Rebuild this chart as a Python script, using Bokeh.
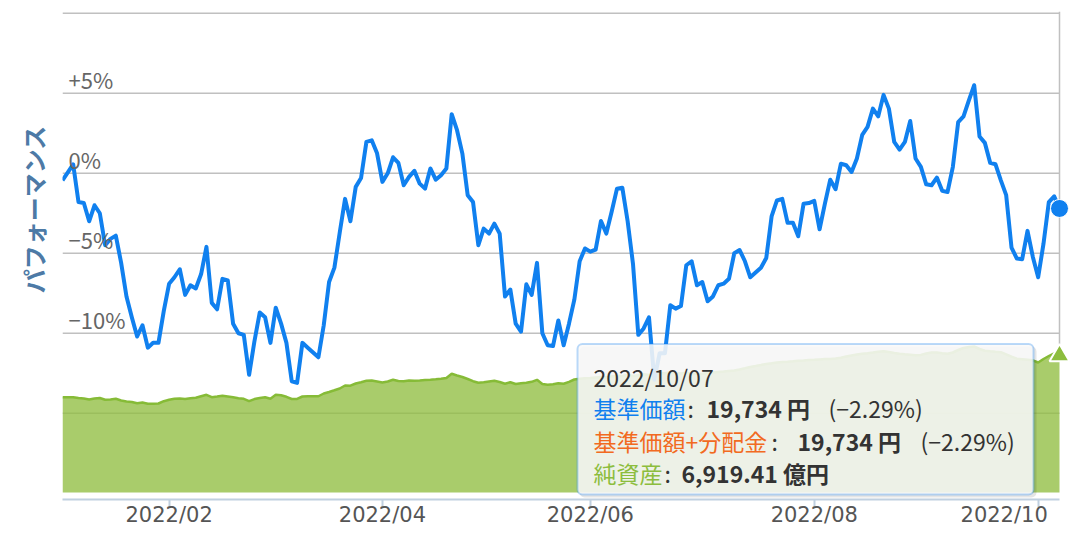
import math
import pandas as pd
from bokeh.plotting import figure
from bokeh.layouts import row
from bokeh.models import Range1d, FixedTicker, Label, BoxAnnotation
from bokeh.embed import file_html
from bokeh.resources import INLINE
from bokeh.core.properties import value

# ---------------- data ----------------
jp_holidays = ["2021-12-31", "2022-01-03", "2022-01-10", "2022-02-11", "2022-02-23",
               "2022-03-21", "2022-04-29", "2022-05-03", "2022-05-04", "2022-05-05",
               "2022-07-18", "2022-08-11", "2022-09-19", "2022-09-23"]
trade_dates = pd.bdate_range("2021-12-30", "2022-10-07", freq="C", holidays=jp_holidays)

# performance (%), one value per trading day
performance = [
    -0.44, 0.05, 0.56, -1.8, -1.86, -3.0, -2.0, -2.5, -4.5, -4.1,
    -3.9, -5.6, -7.7, -9.0, -10.2, -9.5, -10.9, -10.6, -10.6, -8.6,
    -6.9, -6.5, -6.0, -7.6, -7.0, -7.2, -6.3, -4.6, -8.1, -8.5,
    -6.6, -6.7, -9.4, -10.0, -10.1, -12.6, -10.5, -8.7, -9.0, -10.6,
    -8.4, -9.4, -10.6, -13.0, -13.1, -10.6, -10.9, -11.2, -11.5, -9.5,
    -6.8, -5.9, -3.7, -1.6, -3.0, -0.85, -0.3, 1.96, 2.06, 1.25,
    -0.54, 0.0, 1.0, 0.65, -0.75, -0.23, 0.15, -0.65, -0.96, 0.3,
    -0.4, -0.12, 0.3, 3.69, 2.69, 1.23, -1.37, -1.8, -4.5, -3.46,
    -3.77, -3.15, -3.77, -7.7, -7.27, -9.4, -9.9, -6.94, -7.6, -5.6,
    -10.0, -10.75, -10.8, -9.2, -10.75, -9.4, -7.9, -5.5, -4.7, -4.9,
    -4.77, -2.98, -3.77, -2.4, -0.96, -0.9, -3.0, -5.65, -10.1, -9.7,
    -9.0, -12.9, -11.25, -11.25, -8.25, -8.46, -8.3, -5.75, -5.5, -7.0,
    -6.8, -8.0, -7.7, -7.0, -6.9, -6.6, -5.0, -4.8, -5.5, -6.5,
    -6.2, -5.9, -5.3, -2.7, -1.7, -1.6, -3.1, -3.1, -3.94, -1.9,
    -1.86, -1.73, -3.5, -1.9, -0.4, -1.0, 0.6, 0.5, 0.08, 0.92,
    2.4, 2.9, 4.04, 3.56, 4.9, 4.04, 1.96, 1.48, 1.96, 3.27,
    0.92, 0.4, -0.69, -0.75, -0.27, -1.1, -1.17, 0.4, 3.2, 3.56,
    4.56, 5.5, 2.3, 1.9, 0.65, 0.56, -0.44, -1.37, -4.65, -5.33,
    -5.37, -3.6, -5.23, -6.5, -4.4, -1.8, -1.44, -2.2,
]

# net assets (億円), one value per trading day
net_assets = [
    4813, 4816, 4811, 4772, 4747, 4697, 4747, 4772, 4681, 4697,
    4732, 4646, 4596, 4570, 4510, 4545, 4479, 4484, 4495, 4611,
    4681, 4732, 4747, 4722, 4762, 4782, 4863, 4934, 4813, 4848,
    4888, 4848, 4808, 4762, 4732, 4611, 4717, 4772, 4813, 4732,
    4934, 4909, 4833, 4722, 4725, 4848, 4863, 4866, 4860, 5000,
    5075, 5161, 5252, 5404, 5393, 5505, 5570, 5641, 5656, 5606,
    5555, 5606, 5696, 5631, 5621, 5656, 5646, 5660, 5681, 5696,
    5717, 5742, 5782, 5994, 5909, 5833, 5732, 5621, 5540, 5570,
    5606, 5641, 5580, 5489, 5570, 5479, 5520, 5540, 5590, 5691,
    5479, 5439, 5464, 5515, 5494, 5590, 5707, 5747, 5767, 5782,
    5808, 5833, 5818, 5858, 5898, 5883, 5934, 5883, 5919, 5969,
    5934, 5999, 6035, 6020, 6070, 6035, 6010, 6045, 6010, 5989,
    5999, 6035, 6060, 6090, 6111, 6141, 6161, 6212, 6272, 6338,
    6388, 6439, 6494, 6525, 6565, 6590, 6600, 6626, 6656, 6666,
    6691, 6706, 6722, 6737, 6747, 6767, 6807, 6868, 6919, 6969,
    7009, 7035, 7070, 7110, 7136, 7095, 7045, 7009, 6979, 6954,
    6929, 6949, 7020, 7070, 7065, 7030, 7004, 7070, 7196, 7297,
    7343, 7373, 7247, 7161, 7131, 7105, 7085, 6979, 6858, 6757,
    6732, 6706, 6676, 6565, 6742, 6893, 7030, 6919.41,
]

tick_months = ["2022-02", "2022-04", "2022-06", "2022-08", "2022-10"]
tick_labels = ["2022/02", "2022/04", "2022/06", "2022/08", "2022/10"]
ytick_values = [5, 0, -5, -10]
ytick_labels = ["+5%", "0%", "\u22125%", "\u221210%"]
grid_values = [10, 5, 0, -5, -10, -15]

tip_nav = 19734
tip_nav_change = -2.29
tip_nav_div = 19734
tip_nav_div_change = -2.29

# ---------------- styles ----------------
FONT = "Noto Sans CJK JP"
LATIN = "DejaVu Sans"
BLUE = "#1080ef"
ORANGE = "#f26a21"
GREEN = "#8cbd3d"
DARK = "#333333"
GRID = "#c0c0c0"

n = len(trade_dates)
xs = list(range(n))
month_str = [d.strftime("%Y-%m") for d in trade_dates]
tick_idx = [month_str.index(m) for m in tick_months]

# geometry (page pixels)
TITLE_W = 62
FL, FT, FW, FH = 62, 11, 997, 488     # data area of the chart
PXU = FW / (n - 1)                      # pixels per trading day
X0 = 0
X1R = X0 + 1011 / PXU                   # frame runs a bit past the last point (markers)
Y0, Y1 = -20.39, 10.11
A0, A1 = -353.5, 24290.5


def dx(px):
    return X0 + (px - FL) / PXU


def dy(py):
    return Y1 - (py - FT) / FH * (Y1 - Y0)


# ---------------- title strip ----------------
t = figure(width=TITLE_W, height=538, output_backend="svg", toolbar_location=None,
           x_range=Range1d(0, TITLE_W), y_range=Range1d(0, 538), min_border=0)
t.axis.visible = False
t.grid.visible = False
t.outline_line_color = None
t.title.visible = False
t.text(x=[33], y=[538 - 218], text=["パフォーマンス"], angle=math.pi / 2,
       text_align="center", text_baseline="middle", text_font=value(FONT),
       text_font_size="24px", text_font_style="bold", text_color="#4d7aa6")

# ---------------- main chart ----------------
p = figure(width=1074 - TITLE_W, height=538, output_backend="svg", toolbar_location=None,
           x_range=Range1d(X0, X1R), y_range=Range1d(Y0, Y1),
           min_border_left=0, min_border_right=1, min_border_top=11, min_border_bottom=39)
p.title.visible = False
p.extra_y_ranges = {"assets": Range1d(A0, A1)}
p.outline_line_color = None
p.background_fill_color = "white"
p.border_fill_color = "white"
p.yaxis.visible = False
p.grid.visible = False

# x axis
p.xaxis.ticker = FixedTicker(ticks=tick_idx)
last_pad = "\u2007" * 2   # last label is pulled left inside the chart, as in the original
p.xaxis.major_label_overrides = {
    i: (lab + last_pad if k == len(tick_idx) - 1 else lab)
    for k, (i, lab) in enumerate(zip(tick_idx, tick_labels))
}
p.xaxis.bounds = (X0, xs[-1])
p.xaxis.axis_line_color = "#c0d0e0"
p.xaxis.axis_line_width = 2
p.xaxis.major_tick_line_color = "#c0d0e0"
p.xaxis.major_tick_line_width = 2
p.xaxis.major_tick_in = 0
p.xaxis.major_tick_out = 8
p.xaxis.minor_tick_line_color = None
p.xaxis.major_label_text_font = LATIN
p.xaxis.major_label_text_font_size = "21px"
p.xaxis.major_label_text_color = "#555555"
p.xaxis.major_label_standoff = -5

# horizontal grid lines (end at the last data point)
p.segment(x0=[X0] * len(grid_values), x1=[xs[-1]] * len(grid_values),
          y0=grid_values, y1=grid_values, line_color=GRID, line_width=1.5)

# net assets area
p.varea(x=xs, y1=[0] * n, y2=net_assets, y_range_name="assets",
        fill_color="#91be41", fill_alpha=0.78)
p.line(xs, net_assets, y_range_name="assets", line_color="#86bb37", line_width=2.5)

# performance line
p.line(xs, performance, line_color=BLUE, line_width=4, line_join="round")

# y tick labels inside plot
p.text(x=[X0] * len(ytick_values), y=ytick_values, text=ytick_labels,
       x_offset=6, y_offset=-14, text_baseline="middle", text_align="left",
       text_font=value(FONT), text_font_size="22px", text_color="#666666")

# hover crosshair + markers at last point
p.segment(x0=[xs[-1]], x1=[xs[-1]], y0=[net_assets[-1]], y1=[A1],
          y_range_name="assets", line_color=GRID, line_width=1.5)
p.scatter(x=[xs[-1]], y=[performance[-1]], size=18, marker="circle",
          fill_color=BLUE, line_color="white", line_width=1)
p.scatter(x=[xs[-1]], y=[net_assets[-1]], size=20, marker="triangle",
          y_range_name="assets", fill_color=GREEN, line_color="white", line_width=2)

# ---------------- tooltip ----------------
p.add_layout(BoxAnnotation(left=dx(579), right=dx(1036), top=dy(346), bottom=dy(497),
                           fill_color="black", fill_alpha=0.10, line_color=None,
                           border_radius=5))
p.add_layout(BoxAnnotation(left=dx(577), right=dx(1033), top=dy(343.5), bottom=dy(494),
                           fill_color="#f9f9f9", fill_alpha=0.88, line_color="#1d84f0",
                           line_width=2, border_radius=5))


def fmt_pct(v):
    s = f"{v:.2f}%"
    return "(" + s.replace("-", "\u2212") + ")"


date_text = trade_dates[-1].strftime("%Y/%m/%d")
segments = [
    (593, 376, date_text, DARK, "normal"),
    (593, 407, "基準価額", BLUE, "normal"),
    (687, 407, ":", DARK, "normal"),
    (706, 407, f"{tip_nav:,} 円", DARK, "bold"),
    (828, 407, fmt_pct(tip_nav_change), DARK, "normal"),
    (593, 440, "基準価額+分配金", ORANGE, "normal"),
    (771, 440, ":", DARK, "normal"),
    (797, 440, f"{tip_nav_div:,} 円", DARK, "bold"),
    (920, 440, fmt_pct(tip_nav_div_change), DARK, "normal"),
    (593, 472, "純資産", GREEN, "normal"),
    (664, 472, ":", DARK, "normal"),
    (681, 472, f"{net_assets[-1]:,.2f} 億円", DARK, "bold"),
]
for px, py, txt, col, style in segments:
    p.add_layout(Label(x=dx(px), y=dy(py), text=txt, text_color=col,
                       text_font=FONT, text_font_size="23px", text_font_style=style,
                       text_baseline="middle", text_align="left"))

layout = row(t, p, spacing=0)
open("out.html", "w").write(file_html(layout, INLINE))
